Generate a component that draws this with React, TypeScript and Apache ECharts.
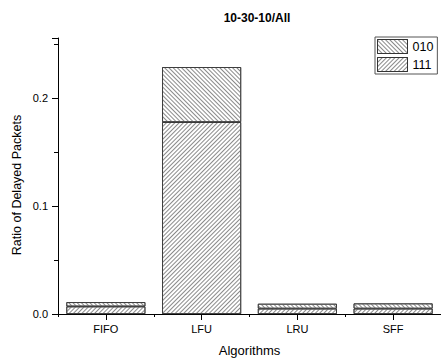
import React, { useEffect, useRef } from "react";
import * as echarts from "echarts";

const categories = ["FIFO", "LFU", "LRU", "SFF"];
const series111 = [0.007, 0.178, 0.005, 0.005];
const series010 = [0.004, 0.051, 0.0045, 0.0048];
const yTicks = [0, 0.1, 0.2];

const FONT = "'Liberation Sans', Arial, sans-serif";

export default function App() {
  const ref = useRef<HTMLDivElement>(null);
  useEffect(() => {
    if (!ref.current) return;
    const chart = echarts.init(ref.current, undefined, { renderer: "svg" });
    const hatch = (rot: number) => ({
      symbol: "rect",
      symbolSize: 1,
      dashArrayX: [[1, 0]],
      dashArrayY: [1, 2],
      rotation: rot,
      color: "#8a8a8a",
    });
    chart.setOption({
      animation: false,
      textStyle: { fontFamily: FONT },
      title: {
        text: "10-30-10/All",
        left: 252,
        top: 7,
        textAlign: "center",
        textStyle: { fontFamily: FONT, fontWeight: "bold", fontSize: 12, color: "#000" },
      },
      legend: {
        orient: "vertical",
        left: 375,
        top: 37,
        data: ["010", "111"],
        icon: "rect",
        itemWidth: 30,
        itemHeight: 14,
        itemGap: 3,
        padding: [2, 4, 2, 2],
        borderColor: "#555",
        borderWidth: 1,
        itemStyle: { borderWidth: 1, borderColor: "#333" },
        textStyle: { fontFamily: FONT, fontSize: 12.5, color: "#000", padding: [0, 0, 0, 0] },
      },
      grid: { left: 58, right: -4, top: 38, bottom: 44 },
      xAxis: [
        {
          type: "category",
          data: categories,
          position: "bottom",
          axisLine: { lineStyle: { color: "#000", width: 1 } },
          axisTick: { show: true, alignWithLabel: true, length: 6, lineStyle: { color: "#000" } },
          axisLabel: { color: "#000", fontSize: 11, fontFamily: FONT, margin: 9 },
          name: "Algorithms",
          nameLocation: "middle",
          nameGap: 30,
          nameTextStyle: { color: "#000", fontSize: 13, fontFamily: FONT },
        },
        {
          type: "category",
          data: categories,
          position: "bottom",
          axisLine: { show: false },
          axisTick: { show: true, length: 3, lineStyle: { color: "#000" } },
          axisLabel: { show: false },
        },
      ],
      yAxis: {
        type: "value",
        min: 0,
        max: 0.256,
        interval: 0.1,
        axisLine: { show: true, lineStyle: { color: "#000", width: 1 } },
        axisTick: { show: true, length: 6, lineStyle: { color: "#000" } },
        minorTick: { show: true, splitNumber: 2, length: 4, lineStyle: { color: "#000" } },
        splitLine: { show: false },
        axisLabel: {
          color: "#000",
          fontSize: 11,
          fontFamily: FONT,
          margin: 10,
          formatter: (v: number) => (yTicks.some((t) => Math.abs(t - v) < 1e-9) ? v.toFixed(1) : ""),
        },
      },
      graphic: [
        {
          type: "text",
          x: 17,
          y: 185,
          rotation: Math.PI / 2,
          style: {
            text: "Ratio of Delayed Packets",
            fill: "#000",
            font: "12.5px " + FONT,
            textAlign: "center",
            textVerticalAlign: "middle",
          },
        },
      ],
      series: [
        {
          name: "111",
          type: "bar",
          stack: "a",
          data: series111,
          barWidth: 79,
          itemStyle: { color: "#fff", borderColor: "#333", borderWidth: 0.8, decal: hatch(-Math.PI / 4) },
        },
        {
          name: "010",
          type: "bar",
          stack: "a",
          data: series010,
          barWidth: 79,
          itemStyle: { color: "#fff", borderColor: "#333", borderWidth: 0.8, decal: hatch(Math.PI / 4) },
        },
      ],
    });
    return () => chart.dispose();
  }, []);
  return <div ref={ref} style={{ width: 441, height: 362, position: "absolute", left: 0, top: 0 }} />;
}
